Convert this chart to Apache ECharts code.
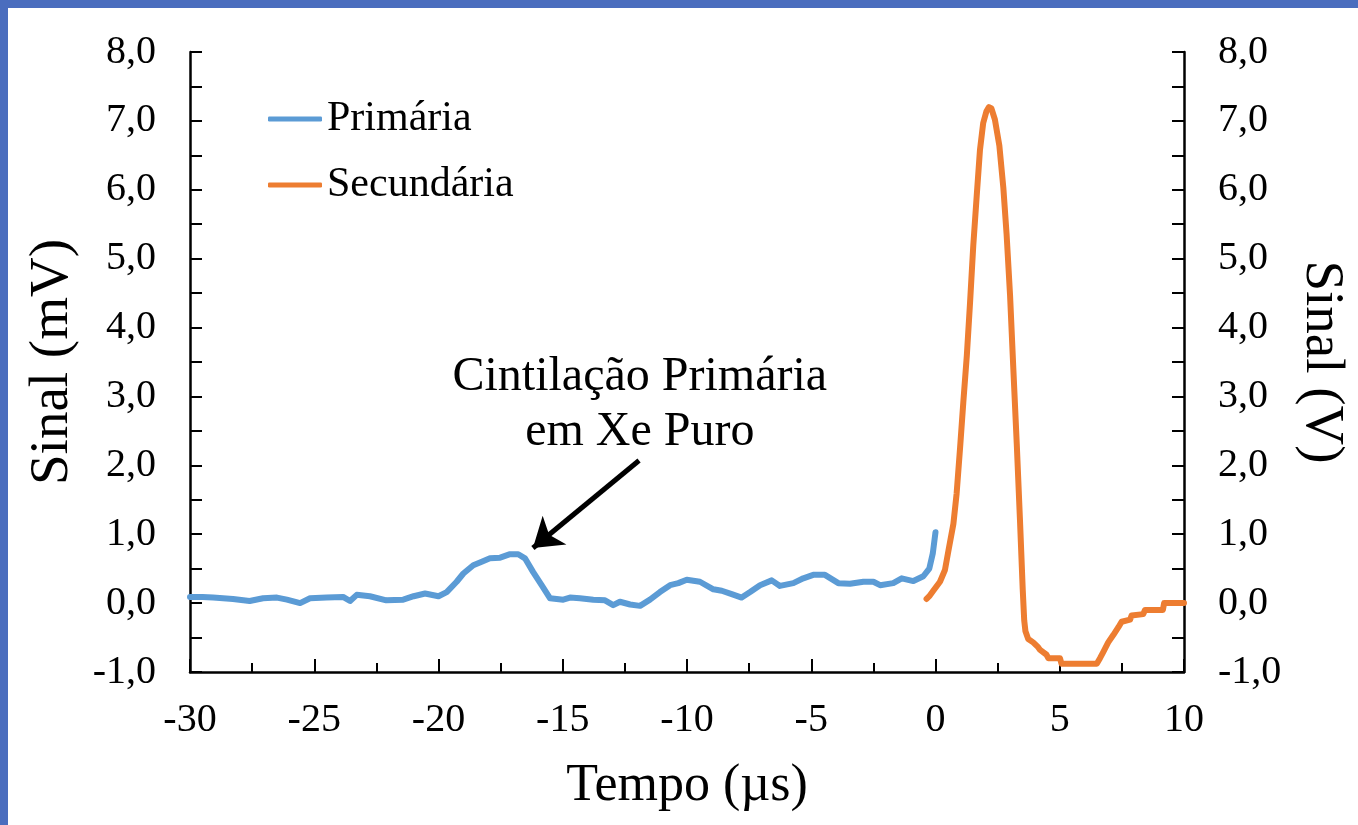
<!DOCTYPE html>
<html>
<head>
<meta charset="utf-8">
<title>Sinal primário e secundário</title>
<script src="https://cdn.jsdelivr.net/npm/echarts@6/dist/echarts.min.js"></script>
<style>
  html, body { margin: 0; padding: 0; width: 1358px; height: 825px; overflow: hidden; background: #4A6DBE; }
  #chart { position: absolute; left: 8px; top: 8px; width: 1350px; height: 817px; background: #ffffff; }
</style>
</head>
<body>
<div id="chart"></div>
<script>
// Primary scintillation trace (mV) against time (µs)
const primaryTime = [
  -30.0, -29.5, -29.07, -28.27, -27.6, -27.06, -26.5, -26.1, -25.57, -25.17,
  -24.5, -23.84, -23.56, -23.29, -22.76, -22.1, -21.42, -21.0, -20.54, -20.0,
  -19.67, -19.27, -19.0, -18.6, -18.26, -17.93, -17.52, -17.12, -16.79, -16.52,
  -16.19, -15.85, -15.51, -14.98, -14.71, -14.31, -13.77, -13.3, -12.97, -12.7,
  -12.29, -11.89, -11.49, -11.09, -10.68, -10.35, -10.01, -9.48, -8.94, -8.6,
  -8.2, -7.8, -7.46, -7.06, -6.59, -6.26, -5.72, -5.32, -4.92, -4.45,
  -3.91, -3.44, -2.9, -2.5, -2.23, -1.7, -1.36, -0.89, -0.49, -0.25,
  -0.11, 0.0
];
const primarySignal = [
  0.09, 0.09, 0.08, 0.06, 0.03, 0.07, 0.08, 0.05, 0.00, 0.07,
  0.08, 0.09, 0.03, 0.12, 0.10, 0.04, 0.05, 0.10, 0.14, 0.10,
  0.16, 0.31, 0.43, 0.55, 0.60, 0.65, 0.66, 0.71, 0.71, 0.65,
  0.45, 0.26, 0.07, 0.05, 0.08, 0.07, 0.05, 0.04, -0.03, 0.02,
  -0.02, -0.04, 0.05, 0.16, 0.26, 0.29, 0.34, 0.31, 0.20, 0.18,
  0.13, 0.08, 0.16, 0.26, 0.33, 0.25, 0.29, 0.36, 0.41, 0.41,
  0.29, 0.28, 0.31, 0.31, 0.26, 0.29, 0.36, 0.32, 0.39, 0.50,
  0.72, 1.03
];

// Secondary scintillation trace (V) against time (µs)
const secondaryTime = [
  -0.36, -0.25, -0.09, 0.18, 0.38, 0.52, 0.72, 0.85, 0.99, 1.12,
  1.26, 1.39, 1.52, 1.66, 1.79, 1.92, 2.05, 2.15, 2.25, 2.39,
  2.57, 2.73, 2.86, 3.0, 3.13, 3.27, 3.4, 3.51, 3.57, 3.62,
  3.73, 3.93, 4.13, 4.21, 4.47, 4.54, 5.01, 5.07, 6.49, 6.62,
  6.75, 6.95, 7.16, 7.36, 7.49, 7.83, 7.89, 8.36, 8.43, 9.15,
  9.2, 10.0
];
const secondarySignal = [
  0.06, 0.10, 0.18, 0.31, 0.48, 0.76, 1.15, 1.59, 2.26, 2.92,
  3.59, 4.36, 5.19, 5.92, 6.58, 6.97, 7.14, 7.20, 7.18, 7.02,
  6.64, 6.03, 5.36, 4.47, 3.42, 2.31, 1.20, 0.20, -0.25, -0.41,
  -0.52, -0.57, -0.64, -0.68, -0.75, -0.80, -0.80, -0.88, -0.88, -0.80,
  -0.71, -0.57, -0.46, -0.35, -0.27, -0.24, -0.18, -0.16, -0.10, -0.10,
  0.00, 0.00
];

// Axis ranges and ticks
const timeRange = { min: -30, max: 10, step: 5 };
const signalRange = { min: -1, max: 8, step: 1 };

// Annotation: label anchor and arrow (tail, head) in data coordinates
const noteText = ['Cintilação Primária', 'em Xe Puro'];
const noteAnchor = [-11.9, 2.88];
const arrowTail = [-11.93, 2.07];
const arrowHead = [-16.2, 0.80];

const zip = (xs, ys) => xs.map((x, i) => [x, ys[i]]);
const FONT = '"Liberation Serif", "Times New Roman", serif';
const fmt = v => v.toFixed(1).replace('.', ',');

const valueAxis = (name, position, rotate, gap) => ({
  type: 'value',
  position: position,
  min: signalRange.min,
  max: signalRange.max,
  interval: signalRange.step,
  name: name,
  nameLocation: 'middle',
  nameRotate: rotate,
  nameGap: gap,
  nameTextStyle: { fontFamily: FONT, fontSize: 55, color: '#000' },
  axisLine: { show: true, onZero: false, lineStyle: { color: '#000', width: 2.5 } },
  axisTick: { show: true, inside: true, length: 12, lineStyle: { color: '#000', width: 2 } },
  minorTick: { show: true, splitNumber: 2, length: 12, lineStyle: { color: '#000', width: 2 } },
  splitLine: { show: false },
  axisLabel: { fontFamily: FONT, fontSize: 40, color: '#000', margin: 34, formatter: fmt }
});

const chart = echarts.init(document.getElementById('chart'), null, { renderer: 'canvas' });
chart.setOption({
  animation: false,
  backgroundColor: '#ffffff',
  grid: { left: 182, right: 174, top: 44, bottom: 153, containLabel: false, outerBoundsMode: 'none' },
  legend: {
    orient: 'vertical',
    left: 260,
    top: 90,
    padding: 0,
    itemGap: 24,
    itemWidth: 54,
    itemHeight: 5,
    icon: 'roundRect',
    textStyle: { fontFamily: FONT, fontSize: 42, color: '#000', lineHeight: 42 },
    data: ['Primária', 'Secundária']
  },
  xAxis: {
    type: 'value',
    min: timeRange.min,
    max: timeRange.max,
    interval: timeRange.step,
    name: 'Tempo (µs)',
    nameLocation: 'middle',
    nameGap: 88,
    nameTextStyle: { fontFamily: FONT, fontSize: 52, color: '#000' },
    axisLine: { show: true, onZero: false, lineStyle: { color: '#000', width: 2.5 } },
    axisTick: { show: true, inside: true, length: 13, lineStyle: { color: '#000', width: 2 } },
    minorTick: { show: true, splitNumber: 2, length: 9, lineStyle: { color: '#000', width: 2 } },
    splitLine: { show: false },
    axisLabel: { fontFamily: FONT, fontSize: 40, color: '#000', margin: 28 }
  },
  yAxis: [
    valueAxis('Sinal (mV)', 'left', 90, 110),
    valueAxis('Sinal (V)', 'right', -90, 110)
  ],
  series: [
    {
      name: 'Primária',
      type: 'line',
      yAxisIndex: 0,
      data: zip(primaryTime, primarySignal),
      showSymbol: false,
      symbol: 'none',
      lineStyle: { color: '#5B9BD5', width: 6, cap: 'round', join: 'round' },
      itemStyle: { color: '#5B9BD5' },
      z: 3,
      markPoint: {
        silent: true,
        symbol: 'circle',
        symbolSize: 0,
        itemStyle: { color: 'rgba(0,0,0,0)' },
        label: {
          show: true,
          position: 'inside',
          formatter: noteText.join('\n'),
          fontFamily: FONT,
          fontSize: 48,
          lineHeight: 55,
          color: '#000',
          align: 'center',
          verticalAlign: 'middle'
        },
        data: [{ coord: noteAnchor }]
      },
      markLine: {
        silent: true,
        symbol: ['none', 'arrow'],
        symbolSize: 28,
        label: { show: false },
        lineStyle: { color: '#000', width: 5, type: 'solid' },
        data: [[{ coord: arrowTail }, { coord: arrowHead }]]
      }
    },
    {
      name: 'Secundária',
      type: 'line',
      yAxisIndex: 1,
      data: zip(secondaryTime, secondarySignal),
      showSymbol: false,
      symbol: 'none',
      lineStyle: { color: '#ED7D31', width: 6, cap: 'round', join: 'round' },
      itemStyle: { color: '#ED7D31' },
      z: 4
    }
  ]
});
</script>
</body>
</html>
